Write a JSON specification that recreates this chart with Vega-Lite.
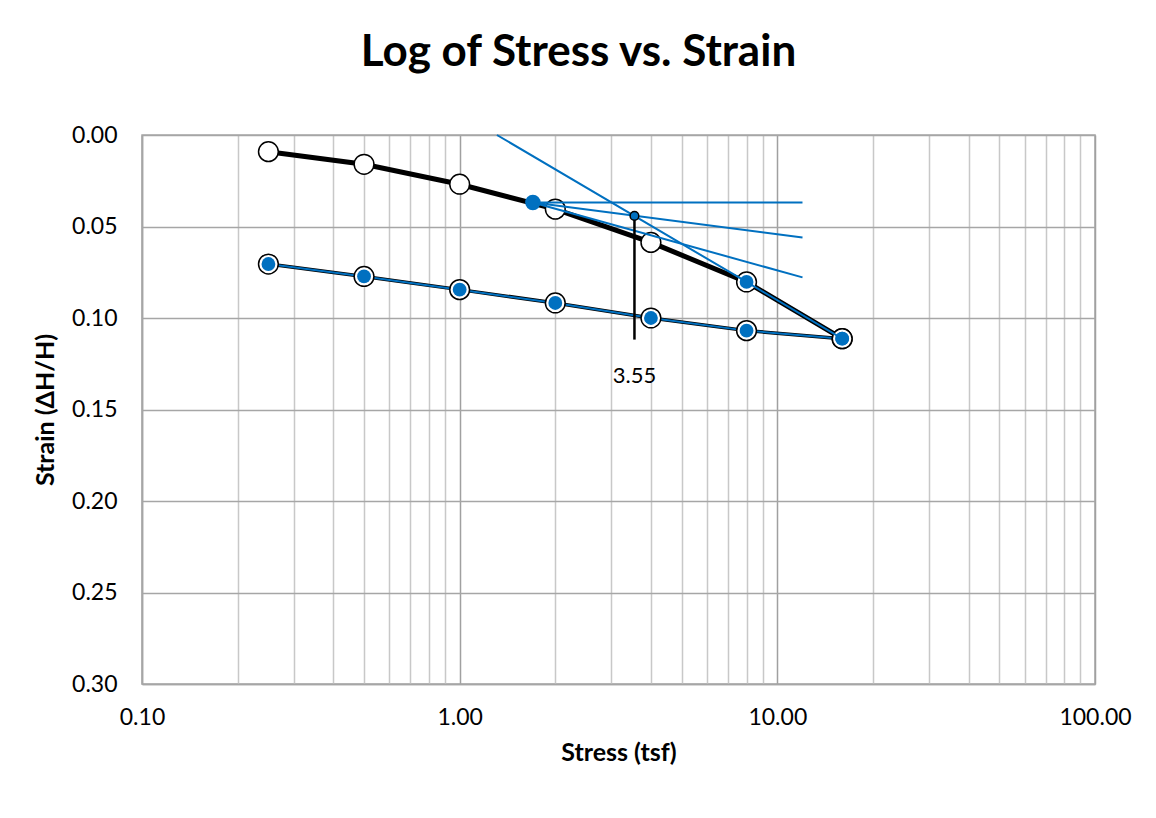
{
  "$schema": "https://vega.github.io/schema/vega-lite/v6.json",
  "width": 953,
  "height": 549,
  "autosize": {"type": "none"},
  "padding": {"left": 142, "top": 135, "right": 61, "bottom": 134},
  "background": "white",
  "config": {
    "font": "Lato",
    "view": {"stroke": "#a6a6a6", "strokeWidth": 1.5}
  },
  "title": {
    "text": "Log of Stress vs. Strain",
    "font": "Lato",
    "fontSize": 44,
    "fontWeight": "bold",
    "color": "black",
    "anchor": "middle",
    "frame": "group",
    "baseline": "alphabetic",
    "offset": 14,
    "dx": -40
  },
  "data": {
    "values": [
      {"series": "loading", "stress": 0.25, "strain": 0.0091},
      {"series": "loading", "stress": 0.5, "strain": 0.0160},
      {"series": "loading", "stress": 1, "strain": 0.0269},
      {"series": "loading", "stress": 2, "strain": 0.0405},
      {"series": "loading", "stress": 4, "strain": 0.0587},
      {"series": "loading", "stress": 8, "strain": 0.0803},
      {"series": "loading", "stress": 16, "strain": 0.1113},
      {"series": "unloading", "stress": 16, "strain": 0.1113},
      {"series": "unloading", "stress": 8, "strain": 0.1069},
      {"series": "unloading", "stress": 4, "strain": 0.1000},
      {"series": "unloading", "stress": 2, "strain": 0.0918},
      {"series": "unloading", "stress": 1, "strain": 0.0845},
      {"series": "unloading", "stress": 0.5, "strain": 0.0773},
      {"series": "unloading", "stress": 0.25, "strain": 0.0705},
      {"series": "virgin", "stress": 1.31, "strain": 0.0},
      {"series": "virgin", "stress": 8, "strain": 0.0803},
      {"series": "virgin", "stress": 16, "strain": 0.1113},
      {"series": "horizontal", "stress": 1.70, "strain": 0.0369},
      {"series": "horizontal", "stress": 12, "strain": 0.0369},
      {"series": "bisector", "stress": 1.70, "strain": 0.0369},
      {"series": "bisector", "stress": 12, "strain": 0.0560},
      {"series": "tangent", "stress": 1.70, "strain": 0.0369},
      {"series": "tangent", "stress": 12, "strain": 0.0778},
      {"series": "pc_line", "stress": 3.55, "strain": 0.0442},
      {"series": "pc_line", "stress": 3.55, "strain": 0.1118},
      {"series": "max_curvature", "stress": 1.70, "strain": 0.0369},
      {"series": "pc", "stress": 3.55, "strain": 0.0442},
      {"series": "pc_label", "stress": 3.55, "strain": 0.1262, "label": "3.55"}
    ]
  },
  "encoding": {
    "x": {
      "field": "stress",
      "type": "quantitative",
      "scale": {"type": "log", "domain": [0.1, 100], "nice": false},
      "axis": {
        "title": "Stress (tsf)",
        "titleFont": "Lato",
        "titleFontSize": 25,
        "titleFontWeight": "bold",
        "titleColor": "black",
        "titlePadding": 11,
        "values": [0.1, 0.2, 0.3, 0.4, 0.5, 0.6, 0.7, 0.8, 0.9, 1, 2, 3, 4, 5, 6, 7, 8, 9, 10, 20, 30, 40, 50, 60, 70, 80, 90, 100],
        "labelExpr": "indexof([0.1, 1, 10, 100], datum.value) >= 0 ? format(datum.value, '.2f') : ''",
        "labelFont": "Lato",
        "labelFontSize": 23,
        "labelColor": "black",
        "labelPadding": 22,
        "labelOverlap": false,
        "labelFlush": false,
        "ticks": false,
        "domainColor": "#a6a6a6",
        "domainWidth": 1.5,
        "grid": true,
        "gridColor": {"condition": {"test": "indexof([0.1, 1, 10, 100], datum.value) >= 0", "value": "#a0a0a0"}, "value": "#c8c8c8"},
        "gridWidth": 1.5
      }
    },
    "y": {
      "field": "strain",
      "type": "quantitative",
      "scale": {"domain": [0, 0.3], "reverse": true, "nice": false, "zero": false},
      "axis": {
        "title": "Strain (ΔH/H)",
        "titleFont": "Lato",
        "titleFontSize": 25,
        "titleFontWeight": "bold",
        "titleColor": "black",
        "titlePadding": 13,
        "values": [0, 0.05, 0.1, 0.15, 0.2, 0.25, 0.3],
        "format": ".2f",
        "labelFont": "Lato",
        "labelFontSize": 23,
        "labelColor": "black",
        "labelPadding": 25,
        "ticks": false,
        "domainColor": "#a6a6a6",
        "domainWidth": 1.5,
        "grid": true,
        "gridColor": "#a6a6a6",
        "gridWidth": 1.5
      }
    }
  },
  "layer": [
    {
      "transform": [{"filter": "datum.series == 'loading'"}],
      "mark": {"type": "line", "color": "black", "strokeWidth": 5},
      "encoding": {}
    },
    {
      "transform": [{"filter": "datum.series == 'unloading'"}],
      "mark": {"type": "line", "color": "black", "strokeWidth": 3.5},
      "encoding": {}
    },
    {
      "transform": [{"filter": "datum.series == 'unloading'"}],
      "mark": {"type": "line", "color": "#0070C0", "strokeWidth": 2},
      "encoding": {}
    },
    {
      "transform": [{"filter": "datum.series == 'loading' || datum.series == 'unloading'"}],
      "mark": {"type": "point", "shape": "circle", "filled": true, "fill": "white", "fillOpacity": 1, "stroke": "black", "strokeWidth": 1.5, "size": 390, "opacity": 1},
      "encoding": {}
    },
    {
      "transform": [{"filter": "datum.series == 'virgin'"}],
      "mark": {"type": "line", "color": "#0070C0", "strokeWidth": 2},
      "encoding": {}
    },
    {
      "transform": [{"filter": "datum.series == 'unloading' || (datum.series == 'virgin' && datum.stress >= 8)"}],
      "mark": {"type": "point", "shape": "circle", "filled": true, "color": "#0070C0", "size": 190, "opacity": 1},
      "encoding": {}
    },
    {
      "transform": [{"filter": "datum.series == 'horizontal' || datum.series == 'bisector' || datum.series == 'tangent'"}],
      "mark": {"type": "line", "color": "#0070C0", "strokeWidth": 2},
      "encoding": {"detail": {"field": "series"}}
    },
    {
      "transform": [{"filter": "datum.series == 'pc_line'"}],
      "mark": {"type": "line", "color": "black", "strokeWidth": 2.5},
      "encoding": {"order": {"field": "strain"}}
    },
    {
      "transform": [{"filter": "datum.series == 'max_curvature'"}],
      "mark": {"type": "point", "shape": "circle", "filled": true, "color": "#0070C0", "size": 240, "opacity": 1},
      "encoding": {}
    },
    {
      "transform": [{"filter": "datum.series == 'pc'"}],
      "mark": {"type": "point", "shape": "circle", "filled": true, "fill": "#0070C0", "stroke": "black", "strokeWidth": 1.5, "size": 75, "opacity": 1},
      "encoding": {}
    },
    {
      "transform": [{"filter": "datum.series == 'pc_label'"}],
      "mark": {"type": "text", "font": "Lato", "fontSize": 22, "color": "black", "align": "center", "baseline": "top"},
      "encoding": {"text": {"field": "label"}}
    }
  ]
}
